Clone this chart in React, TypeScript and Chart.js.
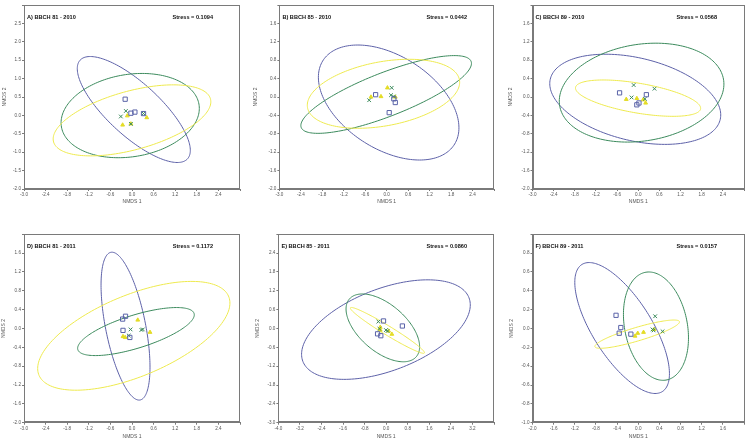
import React, { useEffect, useRef } from "react";
import { Chart, registerables } from "chart.js";
Chart.register(...registerables);
Chart.defaults.font.family = "'Liberation Sans', Arial, sans-serif";

// ---------- data ----------
const panelTitles = [
  "A) BBCH 81 - 2010",
  "B) BBCH 85 - 2010",
  "C) BBCH 89 - 2010",
  "D) BBCH 81 - 2011",
  "E) BBCH 85 - 2011",
  "F) BBCH 89 - 2011",
];
const stressValues = ["0.1094", "0.0442", "0.0568", "0.1172", "0.0860", "0.0157"];
const xAxisTitle = "NMDS 1";
const yAxisTitle = "NMDS 2";

const xMins = [-3, -3, -3, -3, -4, -2];
const xMaxs = [3, 3, 3, 3, 4, 2];
const xSteps = [0.6, 0.6, 0.6, 0.6, 0.8, 0.4];
const yMins = [-2, -2, -2, -2, -3, -1];
const yMaxs = [3, 2, 2, 2, 3, 1];
const ySteps = [0.5, 0.4, 0.4, 0.4, 0.6, 0.2];

// points [x, y]
const squaresA = [[-0.19, 0.44], [-0.03, 0.06], [0.08, 0.09], [0.32, 0.05]];
const crossesA = [[-0.31, -0.03], [-0.17, 0.12], [-0.03, -0.23], [0.32, 0.05]];
const trianglesA = [[-0.13, -0.01], [-0.26, -0.26], [0.41, -0.06], [-0.03, -0.23]];

const squaresB = [[-0.31, 0.05], [0.07, -0.34], [0.2, -0.04], [0.24, -0.12]];
const crossesB = [[-0.49, -0.07], [0.14, 0.2], [0.12, 0.04], [0.2, 0.01]];
const trianglesB = [[-0.44, 0.0], [-0.16, 0.01], [0.02, 0.2], [0.24, 0.0]];

const squaresC = [[-0.53, 0.09], [0.23, 0.05], [0.02, -0.13], [-0.04, -0.17]];
const crossesC = [[-0.13, 0.26], [0.46, 0.18], [-0.19, -0.01], [0.19, -0.04]];
const trianglesC = [[-0.34, -0.05], [-0.04, -0.03], [0.21, -0.13], [0.14, -0.06]];

const squaresD = [[-0.26, 0.2], [-0.18, 0.26], [-0.25, -0.04], [-0.06, -0.19]];
const crossesD = [[-0.04, -0.02], [-0.09, -0.15], [0.3, -0.02], [0.26, -0.03]];
const trianglesD = [[0.16, 0.18], [0.5, -0.08], [-0.25, -0.17], [-0.19, -0.19]];

const squaresE = [[-0.1, 0.24], [0.6, 0.08], [-0.32, -0.17], [-0.2, -0.23]];
const crossesE = [[-0.29, 0.22], [-0.25, -0.01], [-0.01, -0.05], [0.05, -0.08]];
const trianglesE = [[-0.22, 0.04], [0.09, -0.08], [0.21, -0.18], [-0.22, -0.05]];

const squaresF = [[-0.42, 0.14], [-0.33, 0.01], [-0.36, -0.05], [-0.14, -0.06]];
const crossesF = [[0.32, 0.13], [0.46, -0.03], [0.27, -0.01], [0.29, -0.02]];
const trianglesF = [[-0.06, -0.08], [-0.01, -0.05], [0.1, -0.04], [0.3, -0.01]];

// ellipses: [xMin, xMax, yMin, yMax, y at rightmost point]
const blueEllipses = [
  [-1.52, 1.62, -1.28, 1.6, -0.95],
  [-1.91, 2.02, -1.37, 1.13, -0.67],
  [-2.51, 2.34, -1.03, 0.93, -0.39],
  [-0.86, 0.5, -1.52, 1.62, -0.82],
  [-3.14, 3.12, -1.62, 1.55, 0.75],
  [-1.2, 0.59, -0.69, 0.7, -0.48],
];
const greenEllipses = [
  [-1.97, 1.87, -1.15, 1.14, 0.19],
  [-2.4, 2.37, -0.79, 0.9, 0.73],
  [-2.24, 2.43, -0.98, 1.17, 0.28],
  [-1.51, 1.73, -0.575, 0.445, 0.29],
  [-1.49, 1.24, -1.06, 1.1, -0.58],
  [-0.28, 0.95, -0.55, 0.6, -0.1],
];
const yellowEllipses = [
  [-2.19, 2.19, -1.1, 0.83, 0.37],
  [-2.22, 2.04, -0.68, 0.82, 0.32],
  [-1.78, 1.77, -0.42, 0.37, -0.245],
  [-2.62, 2.72, -1.31, 1.0, 0.54],
  [-1.33, 1.42, -0.79, 0.67, -0.77],
  [-0.82, 0.78, -0.21, 0.09, 0.07],
];

const squaresAll = [squaresA, squaresB, squaresC, squaresD, squaresE, squaresF];
const crossesAll = [crossesA, crossesB, crossesC, crossesD, crossesE, crossesF];
const trianglesAll = [trianglesA, trianglesB, trianglesC, trianglesD, trianglesE, trianglesF];

// ---------- styles / layout (page coordinates) ----------
const BLUE = "#5d61a8";
const GREEN = "#3b8a5c";
const YELLOW = "#eeea4e";
const TRI = "#e4dc26";
const AXIS = "#7a7a7a";
const TICKTXT = "#555";

const layouts = [
  { left: 0, top: 0, w: 249, h: 220, aL: 24, aR: 240, aT: 0, aB: 189, yPad: 1.2, xBelow: 13 },
  { left: 250, top: 0, w: 249, h: 220, aL: 279.4, aR: 494, aT: 0, aB: 189, yPad: 2.6, xBelow: 13 },
  { left: 500, top: 0, w: 249, h: 220, aL: 532.5, aR: 748.4, aT: 0, aB: 189, yPad: 7.2, xBelow: 13 },
  { left: 0, top: 220, w: 249, h: 230, aL: 24, aR: 240, aT: 14.3, aB: 202.7, yPad: 0.2, xBelow: 14 },
  { left: 250, top: 220, w: 249, h: 230, aL: 278.4, aR: 494.5, aT: 14.3, aB: 202.7, yPad: 4.8, xBelow: 14 },
  { left: 500, top: 220, w: 249, h: 230, aL: 532.5, aR: 748.4, aT: 14.3, aB: 202.7, yPad: 8.2, xBelow: 14 },
];

function fmt(v: number) {
  const n = Math.abs(v) < 1e-9 ? 0 : v;
  return n.toFixed(1);
}

function drawEllipse(chart: any, e: number[], color: string) {
  const [x0, x1, y0, y1, yR] = e;
  const cx = (x0 + x1) / 2;
  const rx = (x1 - x0) / 2;
  const cy = (y0 + y1) / 2;
  const ry = (y1 - y0) / 2;
  const k = Math.max(-1, Math.min(1, (yR - cy) / ry));
  const d = Math.acos(k);
  const xs = chart.scales.x;
  const ys = chart.scales.y;
  const ctx = chart.ctx;
  ctx.save();
  ctx.beginPath();
  const n = 180;
  for (let i = 0; i <= n; i++) {
    const t = (i / n) * Math.PI * 2;
    const px = xs.getPixelForValue(cx + rx * Math.cos(t));
    const py = ys.getPixelForValue(cy + ry * Math.cos(t - d));
    if (i === 0) ctx.moveTo(px, py);
    else ctx.lineTo(px, py);
  }
  ctx.closePath();
  ctx.strokeStyle = color;
  ctx.lineWidth = 1;
  ctx.stroke();
  ctx.restore();
}

function Panel({ idx }: { idx: number }) {
  const ref = useRef<HTMLCanvasElement | null>(null);
  const L = layouts[idx];
  useEffect(() => {
    if (!ref.current) return;
    const xMax = xMaxs[idx];
    const yMax = yMaxs[idx];
    const toPts = (arr: number[][]) => arr.map(([x, y]) => ({ x, y }));
    const panelPlugin = {
      id: "panelDecor" + idx,
      beforeDatasetsDraw(chart: any) {
        drawEllipse(chart, blueEllipses[idx], BLUE);
        drawEllipse(chart, greenEllipses[idx], GREEN);
        drawEllipse(chart, yellowEllipses[idx], YELLOW);
      },
      afterDraw(chart: any) {
        const { left, right, top, bottom } = chart.chartArea;
        const ctx = chart.ctx;
        ctx.save();
        ctx.strokeStyle = AXIS;
        ctx.lineWidth = 1;
        ctx.strokeRect(Math.round(left) + 0.5, Math.round(top) + 0.5, Math.round(right - left) - 1, Math.round(bottom - top) - 1);
        ctx.fillStyle = "#111";
        ctx.font = "bold 5.6px 'Liberation Sans', Arial, sans-serif";
        ctx.textBaseline = "middle";
        ctx.textAlign = "left";
        ctx.fillText(panelTitles[idx], left + 3, top + 12.5);
        ctx.textAlign = "right";
        ctx.fillText("Stress = " + stressValues[idx], right - 27, top + 12.5);
        ctx.restore();
      },
    };
    const chart = new Chart(ref.current, {
      type: "scatter",
      data: {
        datasets: [
          {
            data: toPts(squaresAll[idx]),
            pointStyle: "rect",
            pointRadius: 3,
            borderColor: "#5a63a8",
            backgroundColor: "rgba(255,255,255,0)",
            borderWidth: 1,
          },
          {
            data: toPts(crossesAll[idx]),
            pointStyle: "crossRot",
            pointRadius: 2.6,
            borderColor: GREEN,
            backgroundColor: GREEN,
            borderWidth: 1,
          },
          {
            data: toPts(trianglesAll[idx]),
            pointStyle: "triangle",
            pointRadius: 2.2,
            borderColor: TRI,
            backgroundColor: TRI,
            borderWidth: 1,
          },
        ],
      },
      options: {
        responsive: false,
        animation: false,
        events: [],
        layout: { padding: { left: 0, top: L.aT, right: L.w - (L.aR - L.left), bottom: 0 } },
        plugins: { legend: { display: false }, tooltip: { enabled: false } },
        scales: {
          x: {
            type: "linear",
            min: xMins[idx],
            max: xMax,
            ticks: {
              stepSize: xSteps[idx],
              autoSkip: false,
              maxRotation: 0,
              padding: 1,
              color: TICKTXT,
              font: { size: 4.6 },
              callback: (v: any) => (Math.abs(Number(v) - xMax) < 1e-9 ? "" : fmt(Number(v))),
            },
            grid: { drawOnChartArea: false, drawTicks: true, tickLength: 2, color: AXIS },
            border: { display: true, color: AXIS },
            title: {
              display: true,
              text: xAxisTitle,
              color: TICKTXT,
              font: { size: 5 },
              padding: { top: 0, bottom: L.h - L.aB - L.xBelow - 3 },
            },
            afterFit: (s: any) => {
              s.height = L.h - L.aB;
            },
          },
          y: {
            type: "linear",
            min: yMins[idx],
            max: yMax,
            ticks: {
              stepSize: ySteps[idx],
              autoSkip: false,
              padding: 1,
              color: TICKTXT,
              font: { size: 4.6 },
              callback: (v: any) => (Math.abs(Number(v) - yMax) < 1e-9 ? "" : fmt(Number(v))),
            },
            grid: { drawOnChartArea: false, drawTicks: true, tickLength: 2, color: AXIS },
            border: { display: true, color: AXIS },
            title: {
              display: true,
              text: yAxisTitle,
              color: TICKTXT,
              font: { size: 5 },
              padding: { top: L.yPad, bottom: 0 },
            },
            afterFit: (s: any) => {
              s.width = L.aL - L.left;
            },
          },
        },
      },
      plugins: [panelPlugin],
    } as any);
    return () => chart.destroy();
  }, [idx]);
  return (
    <canvas
      ref={ref}
      width={L.w}
      height={L.h}
      style={{ position: "absolute", left: L.left, top: L.top, width: L.w, height: L.h }}
    />
  );
}

export default function App() {
  return (
    <div
      style={{
        position: "absolute",
        left: 0,
        top: 0,
        width: 749,
        height: 439,
        overflow: "hidden",
        background: "#fff",
      }}
    >
      {[0, 1, 2, 3, 4, 5].map((i) => (
        <Panel key={i} idx={i} />
      ))}
    </div>
  );
}
